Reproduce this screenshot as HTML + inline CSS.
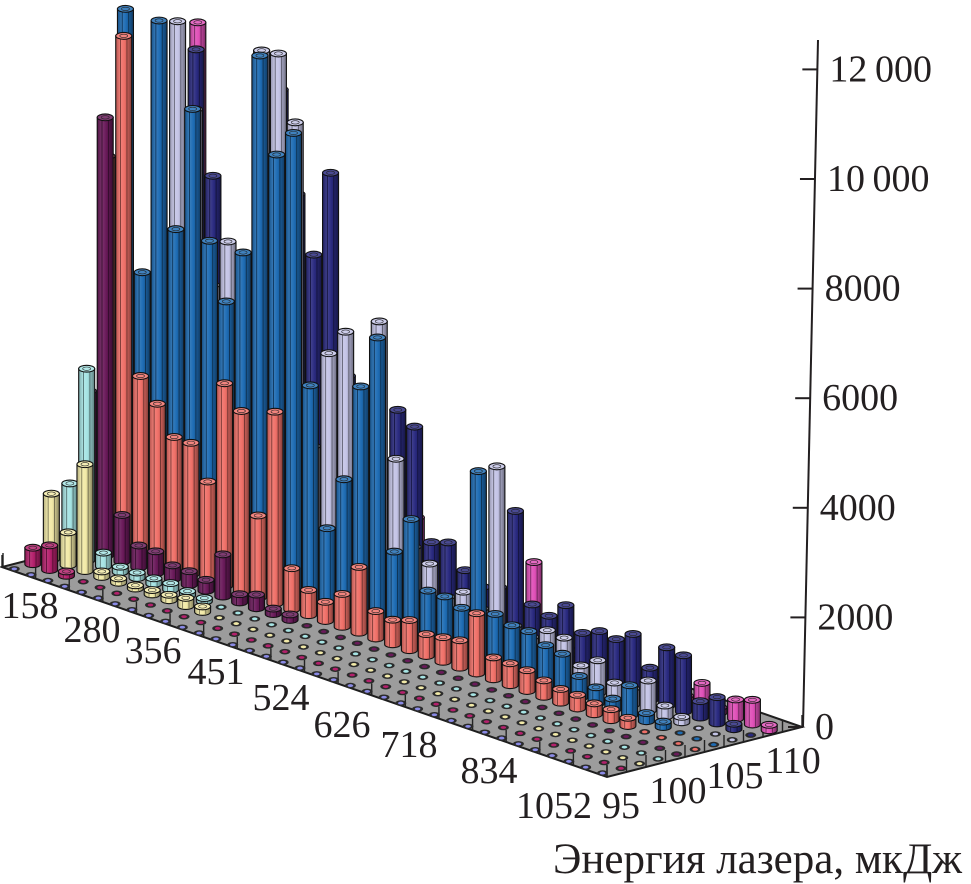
<!DOCTYPE html>
<html><head><meta charset="utf-8"><style>
html,body{margin:0;padding:0;background:#fff;}
svg{display:block;}
text{font-family:"Liberation Serif","DejaVu Serif",serif;fill:#231f20;}
</style></head><body>
<svg id="chart" width="971" height="884" viewBox="0 0 971 884" xmlns="http://www.w3.org/2000/svg">
<defs id="defs"></defs>
<g id="floor-layer"></g>
<g id="bars-layer"></g>
<g id="axis-layer"></g>
</svg>
<script>
// ---- data ----
const energyLabels = ["158","280","356","451","524","626","718","834","1052"];
const depthLabels = ["95","100","105","110"];
const yTicks = [0,2000,4000,6000,8000,10000,12000];
const yTickText = ["0","2000","4000","6000","8000","10\u2009000","12\u2009000"];
const rowColors = ["#8a8ae6","#b4206c","#f2eaa8","#a6e4e4","#6a1a5a","#f07068","#1e6cb4","#c4c4e6","#2a2a80","#e050b8"];
const rowNames = ["periwinkle","crimson","cream","cyan","purple","salmon","blue","lavender","navy","pink"];
const r0 = [0,0,0,0,0,0,0,0,0,0,0,0,0,0,0,0,0,0,0,0,0,0,0,0,0,0,0,0,0,0,0,0,0,0,0,0];
const r1 = [300,450,80,0,0,0,0,0,0,0,0,0,0,0,0,0,0,0,0,0,0,0,0,0,0,0,0,0,0,0,0,0,0,0,0,0];
const r2 = [1200,600,1950,100,80,60,80,100,150,100,0,0,0,0,0,0,0,0,0,0,0,0,0,0,0,0,0,0,0,0,0,0,0,0,0,0];
const r3 = [1300,3500,250,100,100,100,120,80,60,0,0,0,0,0,0,0,0,0,0,0,0,0,0,0,0,0,0,0,0,0,0,0,0,0,0,0];
const r4 = [2900,8000,850,400,400,250,250,200,770,150,250,100,100,0,0,0,0,0,0,0,0,0,0,0,0,0,0,0,0,0,0,0,0,0,0,0];
const r5 = [7100,9400,3300,2900,2400,2400,1800,3700,3300,1500,3500,750,460,350,600,1200,500,450,550,400,450,500,1100,400,400,380,300,250,250,200,200,150,0,0,0,0];
const r6 = [9700,5000,9700,6000,8300,6000,5000,6000,9700,8000,8500,4000,1500,2500,4300,5300,1500,2200,1000,1000,900,3500,1000,900,900,750,700,400,300,200,550,150,100,0,0,0];
const r7 = [2000,5000,9600,8100,5000,5900,3000,9600,9650,8500,2700,4500,5000,2000,5400,3000,1500,1300,800,1000,800,3500,700,600,830,800,400,600,300,300,550,200,100,0,0,0];
const r8 = [3000,4000,9000,6800,4000,3000,5000,8800,7000,6000,7600,4000,3000,2500,3700,3500,1500,1600,1200,1000,1100,2600,1000,900,1200,800,940,900,1100,590,1070,1030,300,480,100,0];
const r9 = [4000,9300,3000,2000,1500,1000,1500,2000,1500,3900,1500,800,800,600,1650,400,300,300,300,200,600,1580,200,100,100,100,100,100,100,100,100,440,100,350,450,100];
const series = [r0,r1,r2,r3,r4,r5,r6,r7,r8,r9];

// ---- geometry ----
const NS = "http://www.w3.org/2000/svg";
const NC = 36, NR = 10;
const F0 = [2,567], FV = [605,210], DV = [195,-50];
const yScale = 0.0548;
function colT(c){ return (c+0.5)/NC; }
function rowT(r){ return 0.02 + r*0.095; }
function baseX(c,r){ return F0[0] + colT(c)*FV[0] + rowT(r)*DV[0]; }
function baseY(c,r){ return F0[1] + colT(c)*FV[1] + rowT(r)*DV[1]; }
function hPx(v){ return v*yScale; }
function yAxisY(v){ return 727 - v*yScale; }
function mk(tag, attrs, parent){ const e=document.createElementNS(NS,tag); for(const k in attrs) e.setAttribute(k,attrs[k]); parent.appendChild(e); return e; }
function shade(hex,f){ const n=parseInt(hex.slice(1),16); let r=(n>>16)&255,g=(n>>8)&255,b=n&255;
  if(f<1){r*=f;g*=f;b*=f;} else {r=r+(255-r)*(f-1);g=g+(255-g)*(f-1);b=b+(255-b)*(f-1);}
  return "rgb("+Math.round(r)+","+Math.round(g)+","+Math.round(b)+")"; }

const defs = document.getElementById('defs');
rowColors.forEach((col,i)=>{
  const lg = mk('linearGradient',{id:'g'+i,x1:'0',x2:'1',y1:'0',y2:'0'},defs);
  mk('stop',{offset:'0','stop-color':shade(col,0.75)},lg);
  mk('stop',{offset:'0.3','stop-color':shade(col,1.12)},lg);
  mk('stop',{offset:'0.55','stop-color':col},lg);
  mk('stop',{offset:'1','stop-color':shade(col,0.55)},lg);
});

// ---- floor ----
const floor = document.getElementById('floor-layer');
const P1=[F0[0]+FV[0],F0[1]+FV[1]], P2=[P1[0]+DV[0],P1[1]+DV[1]], P3=[F0[0]+DV[0],F0[1]+DV[1]];
const fp = mk('polygon',{points:[F0,P1,P2,P3].map(p=>p.join(',')).join(' '),fill:'#9c9c9c',stroke:'#1e1e1e','stroke-width':'2'},floor);


for(let c=0;c<=NC;c+=2){
  const x=F0[0]+c/NC*FV[0], y=F0[1]+c/NC*FV[1];
  const t=mk('line',{x1:x,y1:y,x2:x,y2:y-12,stroke:'#222','stroke-width':'1.4'},floor);
  
  
}
for(let r=0;r<=NR;r++){
  const x=P1[0]+r/NR*DV[0], y=P1[1]+r/NR*DV[1];
  const t=mk('line',{x1:x,y1:y,x2:x,y2:y-12,stroke:'#222','stroke-width':'1.4'},floor);
  
  
}
mk('line',{x1:F0[0]+1,y1:F0[1],x2:F0[0]+1,y2:F0[1]-14,stroke:'#222','stroke-width':'1.4'},floor);

// ---- bars ----
const bars = document.getElementById('bars-layer');
const cells=[];
for(let r=0;r<NR;r++) for(let c=0;c<NC;c++) cells.push({r,c,by:baseY(c,r)});
cells.sort((a,b)=>a.by-b.by || a.c-b.c);
const W=16, RY=3.4;
cells.forEach(({r,c})=>{
  const x=baseX(c,r), y=baseY(c,r), v=series[r][c], col=rowColors[r];
  const h=hPx(v);
  if(h<2.5){
    const d=mk('ellipse',{cx:x,cy:y,rx:5.5,ry:2.8,fill:'#2a2a2a'},bars);
    
    
    mk('ellipse',{cx:x,cy:y,rx:2.8,ry:1.4,fill:col},bars);
    return;
  }
  const g=mk('g',{},bars);
  
  
  const top=y-h;
  mk('path',{d:`M${x-W/2},${top} L${x-W/2},${y} A${W/2},${RY} 0 0 0 ${x+W/2},${y} L${x+W/2},${top} Z`,fill:`url(#g${r})`,stroke:'#111','stroke-width':'1.1'},g);
  mk('line',{x1:x-W/5,y1:top+RY,x2:x-W/5,y2:y+RY*0.9,stroke:shade(col,0.5),'stroke-width':'0.9'},g);
  mk('line',{x1:x+W/5,y1:top+RY,x2:x+W/5,y2:y+RY*0.9,stroke:shade(col,0.45),'stroke-width':'0.9'},g);
  mk('ellipse',{cx:x,cy:top,rx:W/2,ry:RY,fill:shade(col,1.15),stroke:'#111','stroke-width':'1.1'},g);
  mk('ellipse',{cx:x,cy:top,rx:W/4,ry:RY/2,fill:'none',stroke:'#222','stroke-width':'0.6'},g);
});

// ---- axes and labels ----
const ax = document.getElementById('axis-layer');
const axl=mk('line',{x1:803,y1:727,x2:818,y2:40,stroke:'#231f20','stroke-width':'2'},ax);


yTicks.forEach((v,i)=>{
  const y=yAxisY(v), xa=803+(727-y)/687*15;
  const tk=mk('line',{x1:xa-15,y1:y,x2:xa,y2:y,stroke:'#231f20','stroke-width':'2'},ax);
  
  
  const t=mk('text',{x:xa+12,y:y+12,'font-size':'38'},ax);
  t.textContent=yTickText[i];
  
  
});
const exPos=[[30,618],[92,642],[153,663],[216,684],[281,710],[342,737],[409,757],[489,783],[554,818]];
energyLabels.forEach((s,i)=>{
  const t=mk('text',{x:exPos[i][0],y:exPos[i][1],'font-size':'38','text-anchor':'middle'},ax);
  t.textContent=s;
  
  
});
const dPos=[[621,818],[678,803],[735,788],[793,773]];
depthLabels.forEach((s,i)=>{
  const t=mk('text',{x:dPos[i][0],y:dPos[i][1],'font-size':'38','text-anchor':'middle'},ax);
  t.textContent=s;
  
  
});
const title=mk('text',{x:962,y:873,'font-size':'43','text-anchor':'end'},ax);
title.textContent='Энергия лазера, мкДж';


</script>
</body></html>
